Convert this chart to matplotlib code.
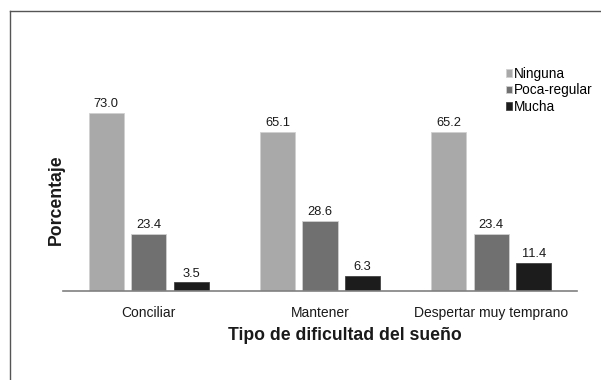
import matplotlib
matplotlib.use("Agg")
import matplotlib.pyplot as plt
from matplotlib.lines import Line2D
import numpy as np

plt.rcParams['font.family'] = ['Liberation Sans', 'DejaVu Sans']

categories = ["Conciliar", "Mantener", "Despertar muy temprano"]
series_names = ["Ninguna", "Poca-regular", "Mucha"]
ninguna = [73.0, 65.1, 65.2]
poca_regular = [23.4, 28.6, 23.4]
mucha = [3.5, 6.3, 11.4]
colors = ["#a9a9a9", "#707070", "#1c1c1c"]

W, H = 601, 380
fig = plt.figure(figsize=(W/100, H/100), dpi=100)
fig.patch.set_facecolor("white")

# axes placement in pixels
left, right, bottom, top = 63, 577, 291, 96
ax = fig.add_axes([left/W, 1 - bottom/H, (right-left)/W, (bottom-top)/H])

x = np.arange(len(categories))
width = 0.205
offset = 0.248
all_series = [ninguna, poca_regular, mucha]
for i, (name, vals, c) in enumerate(zip(series_names, all_series, colors)):
    bars = ax.bar(x + (i-1)*offset, vals, width, color=c, label=name,
                  edgecolor="#d0d0d0" if i < 2 else "#444444", linewidth=0.6)
    for b, v in zip(bars, vals):
        ax.text(b.get_x() + b.get_width()/2, v + 1.2, f"{v:.1f}",
                ha="center", va="bottom", fontsize=9.3, color="#1a1a1a")

ax.set_xlim(-0.5, 2.5)
ax.set_ylim(0, 80)
ax.set_xticks(x)
ax.set_xticklabels(categories, fontsize=10, color="#1a1a1a")
ax.tick_params(axis="x", length=0, pad=11)
ax.set_yticks([])
for s in ["top", "right", "left"]:
    ax.spines[s].set_visible(False)
ax.spines["bottom"].set_color("#808080")
ax.spines["bottom"].set_linewidth(1.2)

fig.text(345/W, 1 - 335/H, "Tipo de dificultad del sueño", fontsize=12.7,
         fontweight="bold", color="#1a1a1a", ha="center", va="center")
fig.text(56/W, 1 - 200/H, "Porcentaje", fontsize=12.7, fontweight="bold",
         color="#1a1a1a", ha="center", va="center", rotation=90)

leg = ax.legend(loc="upper left", bbox_to_anchor=(499/W, 1 - 60/H),
                bbox_transform=fig.transFigure, frameon=False, fontsize=9.8,
                handlelength=0.45, handleheight=0.45, handletextpad=0.15,
                labelspacing=0.18, borderpad=0)

# outer frame
fig.add_artist(Line2D([10/W, 10/W], [0, 1 - 11/H], transform=fig.transFigure,
                      color="#555555", linewidth=1.0))
fig.add_artist(Line2D([10/W, 1], [1 - 11/H, 1 - 11/H], transform=fig.transFigure,
                      color="#555555", linewidth=1.0))

fig.savefig("out.png", dpi=100)
